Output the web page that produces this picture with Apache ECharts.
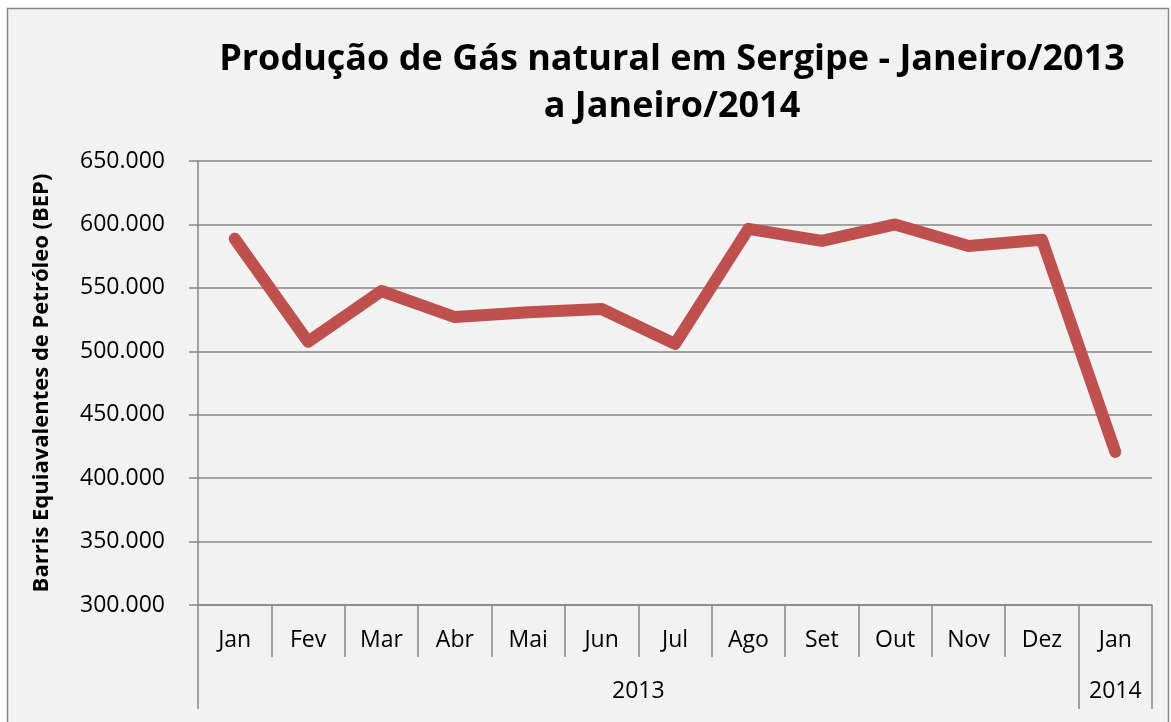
<!DOCTYPE html>
<html>
<head>
<meta charset="utf-8">
<title>Produção de Gás natural em Sergipe</title>
<script src="https://cdn.jsdelivr.net/npm/echarts@6/dist/echarts.min.js"></script>
<style>
  html, body { margin: 0; padding: 0; background: #ffffff; }
  #chart { width: 1171px; height: 722px; }
</style>
</head>
<body>
<div id="chart"></div>
<script>
// dados
var months = ['Jan', 'Fev', 'Mar', 'Abr', 'Mai', 'Jun', 'Jul', 'Ago', 'Set', 'Out', 'Nov', 'Dez', 'Jan'];
var gasBEP = [588700, 507500, 547500, 527000, 530800, 533300, 505800, 596500, 587000, 600000, 583000, 588000, 420700];
var years = ['2013', '2014'];
var yearSpans = [12, 1];
var yMin = 300000, yMax = 650000, yStep = 50000;

var FONT = '"Open Sans", sans-serif';
var AXIS_GRAY = '#878787';

// limites e centros dos grupos de ano
var yearBounds = [0], yearCenters = [];
var acc = 0;
for (var i = 0; i < yearSpans.length; i++) {
  yearCenters.push(acc + yearSpans[i] / 2);
  acc += yearSpans[i];
  yearBounds.push(acc);
}

function ptNumber(v) {
  return String(v).replace(/\B(?=(\d{3})+(?!\d))/g, '.');
}

var myChart = echarts.init(document.getElementById('chart'));

var option = {
  backgroundColor: '#ffffff',
  animation: false,
  textStyle: { fontFamily: FONT },
  graphic: [{
    type: 'rect',
    z: -10,
    shape: { x: 7.5, y: 8.5, width: 1161, height: 720 },
    style: { fill: '#f2f2f2', stroke: AXIS_GRAY, lineWidth: 1.5 }
  }],
  title: {
    text: 'Produção de Gás natural em Sergipe - Janeiro/2013\na Janeiro/2014',
    left: 667,
    top: 31,
    textAlign: 'center',
    textStyle: {
      fontFamily: FONT,
      fontWeight: 'bold',
      fontSize: 36,
      lineHeight: 47,
      color: '#000000'
    }
  },
  grid: {
    left: 198,
    right: 19,
    top: 161,
    bottom: 117
  },
  xAxis: [
    {
      type: 'category',
      data: months,
      boundaryGap: true,
      position: 'bottom',
      axisLine: { show: true, lineStyle: { color: AXIS_GRAY, width: 1.5 } },
      axisTick: { show: true, interval: 0, length: 52, lineStyle: { color: AXIS_GRAY, width: 1.5 } },
      axisLabel: { interval: 0, margin: 24, fontSize: 23, color: '#000000', fontFamily: FONT },
      splitLine: { show: false }
    },
    {
      type: 'value',
      min: 0,
      max: months.length,
      position: 'bottom',
      offset: 52,
      axisLine: { show: false },
      axisTick: { show: true, customValues: yearBounds, length: 52, lineStyle: { color: AXIS_GRAY, width: 1.5 } },
      axisLabel: {
        customValues: yearCenters,
        margin: 23,
        fontSize: 23,
        color: '#000000',
        fontFamily: FONT,
        formatter: function (v) {
          var idx = yearCenters.indexOf(v);
          return idx >= 0 ? years[idx] : '';
        }
      },
      splitLine: { show: false }
    }
  ],
  yAxis: {
    type: 'value',
    min: yMin,
    max: yMax,
    interval: yStep,
    name: 'Barris Equiavalentes de Petróleo (BEP)',
    nameLocation: 'middle',
    nameGap: 145,
    nameRotate: 90,
    nameTextStyle: { fontFamily: FONT, fontWeight: 'bold', fontSize: 22, color: '#000000' },
    axisLine: { show: true, lineStyle: { color: AXIS_GRAY, width: 1.5 } },
    axisTick: { show: true, length: 9, lineStyle: { color: AXIS_GRAY, width: 1.5 } },
    axisLabel: { margin: 33, fontSize: 23, color: '#000000', fontFamily: FONT, formatter: ptNumber },
    splitLine: { show: true, lineStyle: { color: AXIS_GRAY, width: 1.5 } }
  },
  series: [{
    name: 'Gás natural',
    type: 'line',
    xAxisIndex: 0,
    data: gasBEP,
    symbol: 'none',
    lineStyle: { color: '#c0504d', width: 12, cap: 'round', join: 'round' }
  }]
};

myChart.setOption(option);
</script>
</body>
</html>
